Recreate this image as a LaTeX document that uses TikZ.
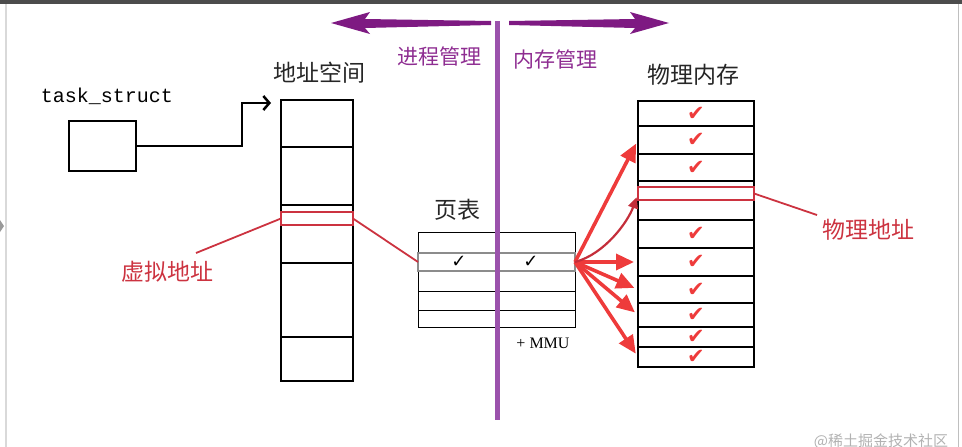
\documentclass[tikz,border=0pt]{standalone}
\usepackage{fontspec}
\setmonofont{Liberation Mono}
\newfontfamily\cjk{Noto Sans CJK SC}
\newfontfamily\symf{DejaVu Sans}
\newfontfamily\serf{Liberation Serif}
\definecolor{mmpurple}{HTML}{7E1A82}
\definecolor{mmline}{HTML}{9B52AC}
\definecolor{mmtext}{HTML}{8E2D91}
\definecolor{mmred}{HTML}{EE3B3B}
\definecolor{mmdark}{HTML}{C42E3A}
\definecolor{mmlab}{HTML}{CC3340}
\usetikzlibrary{arrows.meta,positioning,calc}

\begin{document}
\begin{tikzpicture}[x=1pt,y=-1pt,
  cell/.style={draw,line width=2.5pt,inner sep=0pt,outer sep=0pt,anchor=north west},
  memrow/.style={cell,minimum width=116pt,font=\symf\fontsize{21}{21}\selectfont,text=mmred},
  redbox/.style={draw=mmlab,line width=1.8pt,inner sep=0pt,outer sep=0pt,anchor=north west,minimum height=13pt},
  ttl/.style={font=\cjk\fontsize{23}{23}\selectfont,text=black!85},
  side/.style={font=\cjk\fontsize{21}{21}\selectfont,text=mmtext},
  redlab/.style={font=\cjk\fontsize{23}{23}\selectfont,text=mmlab},
  redln/.style={draw=mmlab,line width=1.8pt},
  fan/.style={-{Triangle[length=18pt,width=16pt]},mmred,line width=3.6pt,shorten >=4pt},
  tick/.style={font=\symf\fontsize{18}{18}\selectfont}]
\useasboundingbox (0,0) rectangle (962,447);
% screenshot frame
\fill[black!70] (0,0) rectangle (962,4);
\draw[black!15,line width=1.5pt] (6,4) -- (6,447);
\draw[black!25,line width=1pt] (958,4) -- (958,447);
\fill[black!40] (0,220) -- (4,226) -- (0,232) -- cycle;

% process side
\node[font=\ttfamily\fontsize{20}{20}\selectfont] (tasklbl) at (107,96) {task\_struct};
\node[cell,minimum width=67pt,minimum height=50pt] (task) at (69,121) {};

\node[cell,minimum width=72pt,minimum height=281pt] (vas) at (281,100) {};
\foreach \y in {147,205,263,337}
  \draw[line width=2.5pt] (281,\y) -- (353,\y);
\node[redbox,minimum width=72pt] (vaddr) at (281,212) {};
\node[ttl] (vastitle) at (319,73) {地址空间};

\coordinate (bend) at (242,103);
\draw[line width=2.5pt,-{Straight Barb[length=6pt,width=14pt]},shorten >=10pt]
  (task.east) -| (bend) -- (bend -| vas.west);

% page table
\node[cell,line width=1pt,minimum width=157pt,minimum height=95pt] (pt) at (418,232) {};
\foreach \y in {291,310}
  \draw[line width=1pt] (418,\y) -- (575,\y);
\node[cell,draw=black!45,line width=1.3pt,minimum width=157pt,minimum height=18pt] (ptsel) at (418,253) {};
\node[tick] (tk1) at (459,262) {✓};
\node[tick] (tk2) at (531,262) {✓};
\node[ttl] (pttitle) at (457,210) {页表};
\node[font=\serf\fontsize{16}{16}\selectfont] (mmu) at (543,343) {+ MMU};

% physical memory
\foreach \i/\ya/\yb/\mk in {1/101/126/✔,2/126/154/✔,3/154/181/✔,4/181/220/{},5/220/248/✔,
    6/248/276/✔,7/276/303/✔,8/303/327/✔,9/327/347/✔,10/347/367/✔}{
  \pgfmathsetmacro\hh{\yb-\ya}
  \node[memrow,minimum height=\hh pt] (m\i) at (638,\ya) {\mk};
}
\node[redbox,minimum width=116pt] (paddr) at (638,187) {};
\node[ttl] (pmtitle) at (693,75) {物理内存};

% labels
\node[redlab] (vlab) at (167,272) {虚拟地址};
\node[redlab] (plab) at (868,230) {物理地址};
\coordinate (vend) at (196,253);
\coordinate (pend) at (817,215);
\draw[redln] (vaddr.west) -- (vend);
\draw[redln] (vaddr.east) -- (ptsel.west);
\draw[redln] (paddr.east) -- (pend);

% mapping
\foreach \tg in {m2,m6,m7,m8,m10}
  \draw[fan] (ptsel.east) -- (\tg.west);
\draw[mmdark,line width=2.2pt,-{Triangle[length=11pt,width=10pt]},shorten >=4pt]
  (ptsel.east) .. controls +(30,-8) and +(-10,28) .. (paddr.west);

% divider
\coordinate (divtop) at (497,21);
\coordinate (divbot) at (497,420);
\draw[mmline,line width=5pt] (divtop) -- (divbot);
\fill[mmpurple] (331,23) -- (370,12) -- (365,19) -- (491,21) -- (491,25) -- (365,28) -- (370,34) -- cycle;
\fill[mmpurple] (669,23) -- (630,12) -- (635,19) -- (509,21) -- (509,25) -- (635,28) -- (630,34) -- cycle;
\node[side] (proc) at (439,56) {进程管理};
\node[side] (mem) at (555,59) {内存管理};

\node[font=\cjk\fontsize{15}{15}\selectfont,text=black!30] (wm) at (881,441) {@稀土掘金技术社区};
\end{tikzpicture}
\end{document}
